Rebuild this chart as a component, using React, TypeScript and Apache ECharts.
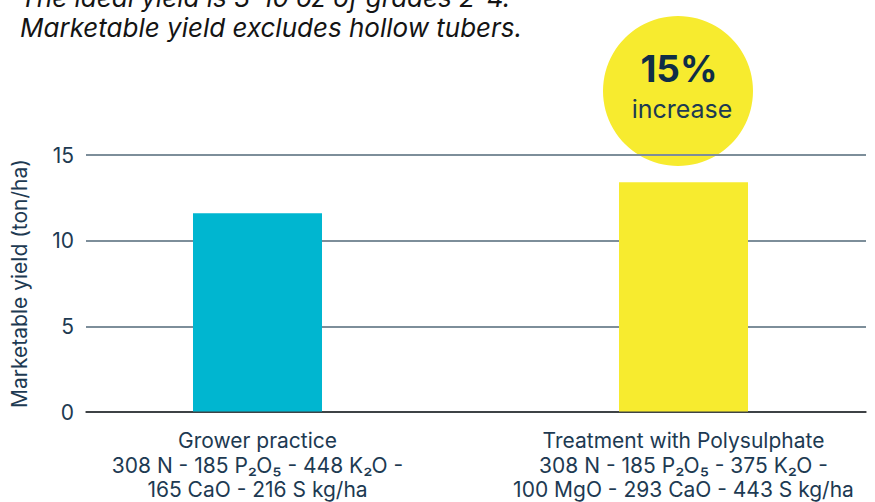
import React, { useEffect, useRef } from "react";
import * as echarts from "echarts";

const categories = [
  "Grower practice\n308 N - 185 P₂O₅ - 448 K₂O -\n165 CaO - 216 S kg/ha",
  "Treatment with Polysulphate\n308 N - 185 P₂O₅ - 375 K₂O -\n100 MgO - 293 CaO - 443 S kg/ha",
];
const yieldValues = [11.6, 13.4];
const barColors = ["#00b6d0", "#f7eb2f"];
const yTicks = { min: 0, max: 15, interval: 5 };
const noteLines = [
  "The ideal yield is 3-10 oz of grades 2-4.",
  "Marketable yield excludes hollow tubers.",
];
const badgeValue = "15%";
const badgeLabel = "increase";

const FONT = "Inter, 'Noto Sans', sans-serif";
const TEXT = "#1d3a52";

export default function App() {
  const ref = useRef<HTMLDivElement>(null);
  useEffect(() => {
    if (!ref.current) return;
    const chart = echarts.init(ref.current, undefined, { renderer: "svg" });
    chart.setOption({
      animation: false,
      textStyle: { fontFamily: FONT },
      grid: [
        { left: 86, right: 9, top: 155, bottom: 90 },
        { left: 257.5, right: 191.5, top: 155, bottom: 90 },
      ],
      xAxis: [
        {
          gridIndex: 0,
          type: "value",
          min: 0,
          max: 1,
          axisLabel: { show: false },
          axisTick: { show: false },
          splitLine: { show: false },
          axisLine: { show: true, lineStyle: { color: "#2a2a2a", width: 1.5 } },
        },
        {
          gridIndex: 1,
          type: "category",
          boundaryGap: false,
          data: categories,
          axisLine: { show: false },
          axisTick: { show: false },
          axisLabel: {
            color: TEXT,
            fontSize: 21,
            lineHeight: 24.5,
            margin: 17,
            fontFamily: FONT,
            interval: 0,
          },
        },
      ],
      yAxis: [
        {
          gridIndex: 0,
          type: "value",
          min: yTicks.min,
          max: yTicks.max,
          interval: yTicks.interval,
          axisLine: { show: false },
          axisTick: { show: false },
          axisLabel: { color: TEXT, fontSize: 21, margin: 12, fontFamily: FONT },
          splitLine: { lineStyle: { color: "#7d8e9a", width: 2 } },
          name: "Marketable yield (ton/ha)",
          nameLocation: "middle",
          nameGap: 56,
          nameTextStyle: { color: TEXT, fontSize: 21, fontFamily: FONT },
        },
        {
          gridIndex: 1,
          type: "value",
          min: yTicks.min,
          max: yTicks.max,
          interval: yTicks.interval,
          show: false,
        },
      ],
      series: [
        {
          type: "bar",
          xAxisIndex: 1,
          yAxisIndex: 1,
          barWidth: 129,
          data: yieldValues.map((v, i) => ({ value: v, itemStyle: { color: barColors[i] } })),
          z: 3,
        },
      ],
      graphic: [
        {
          type: "text",
          x: 20,
          y: -18,
          style: {
            text: noteLines.join("\n"),
            font: `italic 26px ${FONT}`,
            lineHeight: 30,
            fill: "#141414",
            verticalAlign: "top",
          },
        },
        {
          type: "group",
          z: 10,
          children: [
            {
              type: "circle",
              shape: { cx: 678, cy: 91, r: 75 },
              style: { fill: "#f7eb2f" },
            },
            {
              type: "text",
              x: 679,
              y: 68,
              style: {
                text: badgeValue,
                font: `bold 37px ${FONT}`,
                fill: "#0f2d47",
                align: "center",
                verticalAlign: "middle",
              },
            },
            {
              type: "text",
              x: 682,
              y: 109,
              style: {
                text: badgeLabel,
                font: `25px ${FONT}`,
                fill: TEXT,
                align: "center",
                verticalAlign: "middle",
              },
            },
          ],
        },
      ],
    });
    return () => chart.dispose();
  }, []);
  return (
    <div
      ref={ref}
      style={{ position: "fixed", left: 0, top: 0, width: 875, height: 502, background: "#fff" }}
    />
  );
}
